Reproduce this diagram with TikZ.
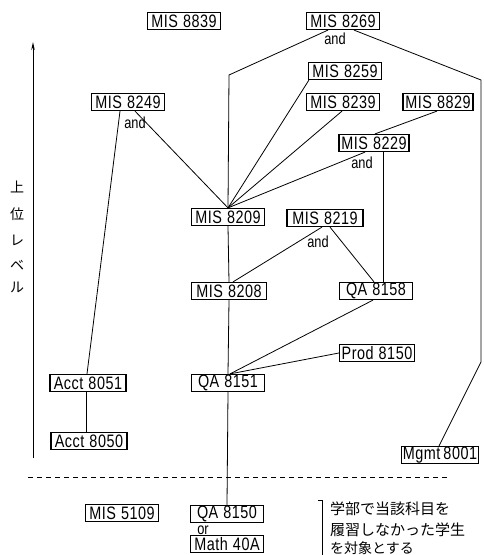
\documentclass[tikz,border=0pt]{standalone}
\usepackage{fontspec}
\setmainfont{Liberation Sans}[FakeStretch=0.8]
\newfontfamily\labelfont{Liberation Sans}[FakeStretch=0.8,LetterSpace=3]
\newfontfamily\jp{Noto Sans CJK JP}
\usetikzlibrary{calc,arrows.meta}
\newcommand{\gap}{\hspace{5pt}}
\begin{document}
\begin{tikzpicture}[x=1pt,y=-1pt,
  course/.style={draw,line width=1.2pt,inner xsep=1.5pt,inner ysep=0pt,
    minimum height=17pt,minimum width=73pt,font=\labelfont\fontsize{18}{18}\selectfont},
  conn/.style={line width=0.8pt},
  andlbl/.style={inner sep=0pt,font=\fontsize{16}{16}\selectfont},
  jpchar/.style={inner sep=0pt,font=\jp\fontsize{14}{14}\selectfont},
  jpline/.style={inner sep=0pt,anchor=west,font=\jp\fontsize{15}{15}\selectfont}]
\useasboundingbox (0,0) rectangle (483,555);

% course boxes
\node[course] (m8839) at (184,21) {MIS\gap 8839};
\node[course] (m8269) at (343,21) {MIS\gap 8269};
\node[course] (m8259) at (345,71) {MIS\gap 8259};
\node[course] (m8249) at (128,102) {MIS\gap 8249};
\node[course] (m8239) at (343,102) {MIS\gap 8239};
\node[course,minimum width=70pt] (m8829) at (438,102) {MIS\gap 8829};
\node[course,minimum width=70pt] (m8229) at (374,143) {MIS\gap 8229};
\node[course] (m8209) at (228,217) {MIS\gap 8209};
\node[course,minimum width=76pt] (m8219) at (325,218) {MIS\gap 8219};
\node[course,minimum width=75pt] (m8208) at (229,291) {MIS\gap 8208};
\node[course] (qa8158) at (376,291) {QA\gap 8158};
\node[course,minimum width=75pt] (prod) at (377,353) {Prod\gap 8150};
\node[course] (qa8151) at (228,383) {QA\gap 8151};
\node[course,minimum width=76pt] (acct51) at (88,383) {Acct\gap 8051};
\node[course,minimum width=76pt] (acct50) at (89,441) {Acct\gap 8050};
\node[course,minimum width=74pt] (mgmt) at (440,455) {Mgmt\hspace{3pt}8001};
\node[course] (m5109) at (122,513) {MIS\gap 5109};
\node[course] (qa8150) at (227,514) {QA\gap 8150};
\node[course] (math) at (227,544) {Math\gap 40A};

% conjunction labels
\node[andlbl] (and1) at (335,39) {and};
\node[andlbl] (and2) at (135,123) {and};
\node[andlbl] (and3) at (362,163) {and};
\node[andlbl] (and4) at (318,242) {and};
\node[andlbl] (or1) at (203,530) {or};

% bend points
\coordinate (k1) at (229,75);
\coordinate (k2) at (481,80);
\coordinate (k3) at (481,362);

% prerequisite lines
\draw[conn] ($(m8269.south)+(-15,0)$) -- (k1) -- (m8209.north);
\draw[conn] ($(m8269.south)+(11,0)$) -- (k2) -- (k3) -- ($(mgmt.north)+(-1,0)$);
\draw[conn] ($(m8259.south west)+(1,0)$) -- (m8209.north);
\draw[conn] ($(m8239.south)+(-1,0)$) -- (m8209.north);
\draw[conn] ($(m8229.south)+(-9,0)$) -- (m8209.north);
\draw[conn] ($(m8249.south)+(7,0)$) -- (m8209.north);
\draw[conn] ($(m8249.south)+(-8,0)$) -- ($(acct51.north)+(-1,0)$);
\draw[conn] ($(m8829.south)+(-1,0)$) -- ($(m8229.north)+(1,0)$);
\draw[conn] ($(m8229.south)+(9,0)$) -- ($(qa8158.north)+(7,0)$);
\draw[conn] (m8209.south) -- (m8208.north);
\draw[conn] ($(m8219.south)+(-3,0)$) -- ($(m8208.north)+(4,0)$);
\draw[conn] ($(m8219.south)+(5,0)$) -- ($(qa8158.north)+(-2,0)$);
\draw[conn] (m8208.south) -- (qa8151.north);
\draw[conn] ($(qa8158.south)+(-3,0)$) -- ($(qa8151.north)+(2,0)$);
\draw[conn] (prod.west) -- ($(qa8151.north)+(2,0)$);
\draw[conn] ($(acct51.south)+(-2,0)$) -- ($(acct50.north)+(-3,0)$);
\draw[conn] (qa8151.south) -- (qa8150.north);

% level axis
\coordinate (ax0) at (33,458);
\coordinate (ax1) at (33,42);
\draw[line width=1pt,-{Stealth[length=8pt,width=3.5pt]}] (ax0) -- (ax1);
\node[jpchar] (v1) at (17,187) {上};
\node[jpchar] (v2) at (17,214) {位};
\node[jpchar] (v3) at (17,240) {レ};
\node[jpchar] (v4) at (17,265) {ベ};
\node[jpchar] (v5) at (17,287) {ル};

% level boundary
\coordinate (d0) at (28,477);
\coordinate (d1) at (447,477);
\draw[conn,dash pattern=on 5pt off 4pt] (d0) -- (d1);

% note for the lower courses
\coordinate (b0) at (318,500);
\coordinate (b1) at (322,500);
\coordinate (b2) at (322,558);
\draw[conn] (b0) -- (b1) -- (b2);
\node[jpline] (n1) at (330,509) {学部で当該科目を};
\node[jpline] (n2) at (330,530) {履習しなかった学生};
\node[jpline,font=\jp\fontsize{14}{14}\selectfont] (n3) at (330,548) {を対象とする};
\end{tikzpicture}
\end{document}
